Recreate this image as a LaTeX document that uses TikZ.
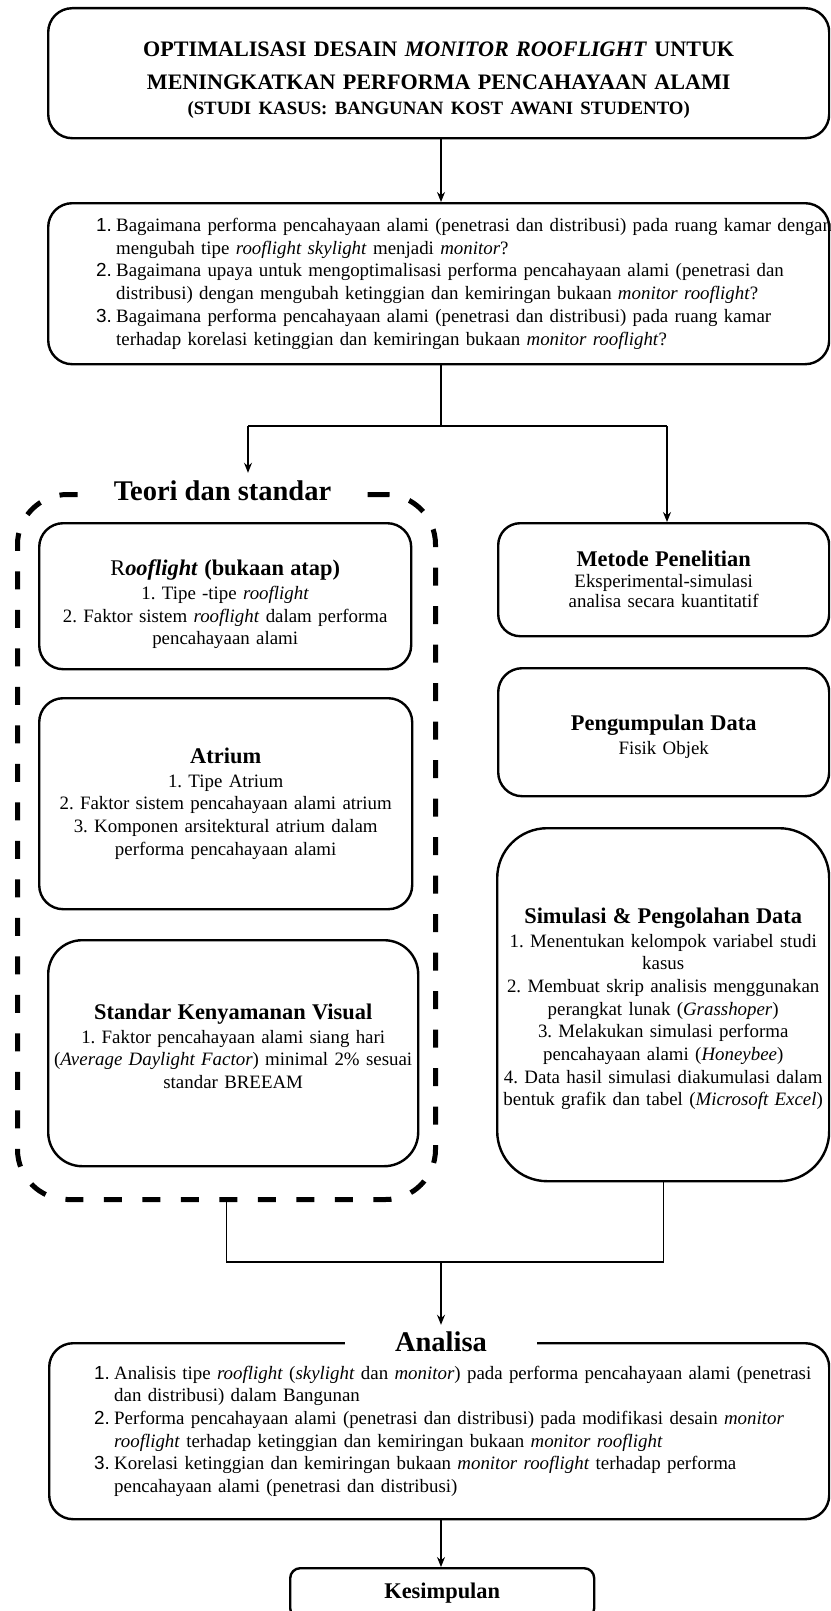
\documentclass[tikz,border=0pt]{standalone}
\usepackage{fontspec}
\setmainfont{Liberation Serif}
\setsansfont{Liberation Sans}
\usetikzlibrary{arrows.meta}
\frenchspacing

\newlength{\kiri}
\newcommand{\kepala}[2][0pt]{{\fontsize{22.4}{26}\selectfont\bfseries\rule{0pt}{#1}#2}\\[1pt]}
\newcommand{\nomor}[1]{\hspace*{\kiri}\makebox[20pt][l]{\sffamily #1.}}
\newcommand{\lanjut}{\hspace*{\kiri}\hspace*{20pt}}

\tikzset{
  kotak/.style={draw, line width=2.4pt, rounded corners=24pt, inner sep=0pt,
    align=center, anchor=north west, font=\fontsize{18.9}{22.7}\selectfont},
  daftar/.style={kotak, align=left},
  wadah/.style={draw, line width=5pt, dash pattern=on 18pt off 20.5pt,
    rounded corners=50pt, inner sep=0pt, anchor=north west},
  labelbesar/.style={fill=white, font=\fontsize{28.5}{32}\selectfont\bfseries},
  garis/.style={line width=1.3pt},
  panah/.style={garis, -{Stealth[length=10pt,width=8pt]}},
}

\begin{document}
\begin{tikzpicture}[x=1pt,y=-1pt]
	\useasboundingbox (0,0) rectangle (830,1611);
	\clip (0,0) rectangle (830,1611);

	% judul penelitian
	\node[kotak, minimum width=781pt, minimum height=130pt, text width=781pt,
	      font=\fontsize{22.1}{33}\selectfont\bfseries] (judul) at (47,7)
	  {\rule{0pt}{28pt}OPTIMALISASI DESAIN \textit{MONITOR ROOFLIGHT} UNTUK\\
	   MENINGKATKAN PERFORMA PENCAHAYAAN ALAMI\\
	   {\fontsize{18.8}{25}\selectfont (STUDI KASUS: BANGUNAN KOST AWANI STUDENTO)\par}};

	% rumusan masalah
	\node[daftar, minimum width=781pt, minimum height=161pt, text width=781pt] (tanya) at (47,202)
	  {\setlength{\kiri}{48pt}%
	   \mbox{\nomor{1}Bagaimana performa pencahayaan alami (penetrasi dan distribusi) pada ruang kamar dengan}\\
	   \mbox{\lanjut mengubah tipe \textit{rooflight skylight} menjadi \textit{monitor}?}\\
	   \mbox{\nomor{2}Bagaimana upaya untuk mengoptimalisasi performa pencahayaan alami (penetrasi dan}\\
	   \mbox{\lanjut distribusi) dengan mengubah ketinggian dan kemiringan bukaan \textit{monitor rooflight}?}\\
	   \mbox{\nomor{3}Bagaimana performa pencahayaan alami (penetrasi dan distribusi) pada ruang kamar}\\
	   \mbox{\lanjut terhadap korelasi ketinggian dan kemiringan bukaan \textit{monitor rooflight}?}};

	% teori dan standar
	\node[wadah, minimum width=418pt, minimum height=705pt] (teori) at (15,492) {};
	\node[labelbesar, inner xsep=17pt, inner ysep=8pt] (judulteori) at (222.5,491) {Teori dan standar};

	\node[kotak, minimum width=372pt, minimum height=146pt, text width=362pt] (rooflight) at (38,522)
	  {\kepala[32pt]{\mdseries R\bfseries\textit{ooflight} (bukaan atap)}
	   1. Tipe -tipe \textit{rooflight}\\
	   2. Faktor sistem \textit{rooflight} dalam performa\\
	   pencahayaan alami};
	\node[kotak, minimum width=373pt, minimum height=211pt, text width=363pt] (atrium) at (38,697)
	  {\kepala{Atrium}
	   1. Tipe Atrium\\
	   2. Faktor sistem pencahayaan alami atrium\\
	   3. Komponen arsitektural atrium dalam\\
	   performa pencahayaan alami};
	\node[kotak, rounded corners=34pt, minimum width=370pt, minimum height=226pt, text width=364pt] (standar) at (47,939)
	  {\kepala{Standar Kenyamanan Visual}
	   1. Faktor pencahayaan alami siang hari\\
	   (\textit{Average Daylight Factor}) minimal 2\% sesuai\\
	   standar BREEAM\rule[-14pt]{0pt}{0pt}};

	% metode
	\node[kotak, rounded corners=22pt, minimum width=331pt, minimum height=113pt, text width=325pt,
	      font=\fontsize{18.9}{20}\selectfont] (metode) at (497,522)
	  {\kepala{Metode Penelitian}
	   Eksperimental-simulasi\\
	   analisa secara kuantitatif};
	\node[kotak, minimum width=331pt, minimum height=128pt, text width=325pt] (data) at (497,667)
	  {\kepala[24pt]{Pengumpulan Data}
	   Fisik Objek};
	\node[kotak, rounded corners=50pt, minimum width=332pt, minimum height=353pt, text width=326pt] (simulasi) at (496,827)
	  {\kepala[24pt]{Simulasi \& Pengolahan Data}
	   1. Menentukan kelompok variabel studi\\
	   kasus\\
	   2. Membuat skrip analisis menggunakan\\
	   perangkat lunak (\textit{Grasshoper})\\
	   3. Melakukan simulasi performa\\
	   pencahayaan alami (\textit{Honeybee})\\
	   4. Data hasil simulasi diakumulasi dalam\\
	   bentuk grafik dan tabel (\textit{Microsoft Excel})};

	% analisa
	\node[daftar, minimum width=780pt, minimum height=176pt, text width=780pt] (analisa) at (48,1342)
	  {\setlength{\kiri}{45pt}%
	   \mbox{\nomor{1}Analisis tipe \textit{rooflight} (\textit{skylight} dan \textit{monitor}) pada performa pencahayaan alami (penetrasi}\\
	   \mbox{\lanjut dan distribusi) dalam Bangunan}\\
	   \mbox{\nomor{2}Performa pencahayaan alami (penetrasi dan distribusi) pada modifikasi desain \textit{monitor}}\\
	   \mbox{\lanjut\textit{rooflight} terhadap ketinggian dan kemiringan bukaan \textit{monitor rooflight}}\\
	   \mbox{\nomor{3}Korelasi ketinggian dan kemiringan bukaan \textit{monitor rooflight} terhadap performa}\\
	   \mbox{\lanjut pencahayaan alami (penetrasi dan distribusi)}};
	\node[labelbesar, inner xsep=50pt, inner ysep=7pt] (judulanalisa) at (441,1342) {Analisa};

	\node[kotak, rounded corners=10pt, minimum width=304pt, minimum height=50pt, text width=300pt] (kesimpulan) at (289,1567)
	  {\bfseries\fontsize{22.4}{26}\selectfont Kesimpulan};

	% penghubung
	\coordinate (cabang) at (441,426);
	\coordinate (kiri) at (248,426);
	\coordinate (kanan) at (667,426);
	\coordinate (gabung) at (441,1262);
	\draw[panah] (judul.south -| cabang) -- (tanya.north -| cabang);
	\draw[garis] (tanya.south -| cabang) -- (cabang);
	\draw[garis] (kiri) -- (kanan);
	\draw[panah] (kiri) -- (kiri |- judulteori.north);
	\draw[panah] (kanan) -- (kanan |- metode.north);
	\draw[garis] (teori.south) |- (simulasi.south |- gabung) -- (simulasi.south);
	\draw[panah] (gabung) -- (gabung |- judulanalisa.north);
	\draw[panah] (analisa.south -| gabung) -- (kesimpulan.north -| gabung);
\end{tikzpicture}
\end{document}
